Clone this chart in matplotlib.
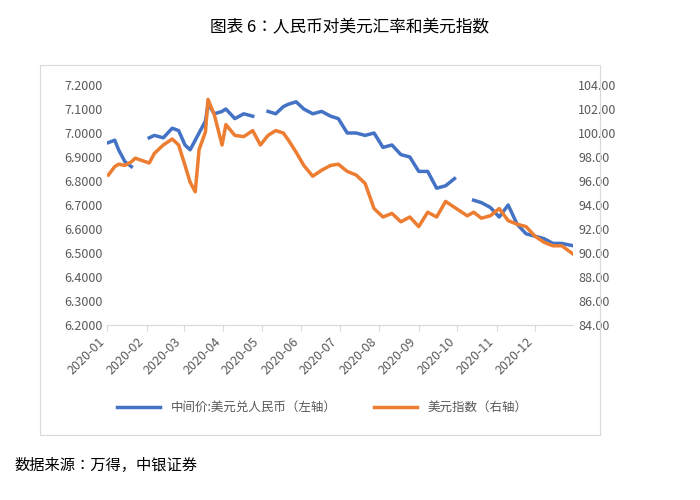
import matplotlib
matplotlib.use("Agg")
import matplotlib.pyplot as plt
import matplotlib.dates as mdates
import numpy as np
import pandas as pd

plt.rcParams['font.family'] = ['Noto Sans CJK JP', 'Noto Sans CJK SC', 'Noto Sans CJK TC', 'DejaVu Sans']

dates = ["2020-01-02","2020-01-07","2020-01-10","2020-01-15","2020-01-20","2020-01-23",
         "2020-02-03","2020-02-07","2020-02-14","2020-02-21","2020-02-26","2020-03-02","2020-03-06",
         "2020-03-10","2020-03-13","2020-03-18","2020-03-20","2020-03-25","2020-03-31","2020-04-03",
         "2020-04-10","2020-04-17","2020-04-24","2020-04-30","2020-05-06","2020-05-12","2020-05-18",
         "2020-05-22","2020-05-28","2020-06-03","2020-06-10","2020-06-17","2020-06-24","2020-06-30",
         "2020-07-07","2020-07-14","2020-07-21","2020-07-28","2020-08-04","2020-08-11","2020-08-18",
         "2020-08-25","2020-09-01","2020-09-08","2020-09-15","2020-09-22","2020-09-29","2020-10-09",
         "2020-10-14","2020-10-20","2020-10-27","2020-11-03","2020-11-10","2020-11-17","2020-11-24",
         "2020-12-01","2020-12-08","2020-12-15","2020-12-22","2020-12-31"]
cny = [6.96,6.97,6.93,6.88,6.86,np.nan,
       6.98,6.99,6.98,7.02,7.01,6.95,6.93,
       6.97,7.00,7.05,7.12,7.08,7.09,7.10,
       7.06,7.08,7.07,np.nan,7.09,7.08,7.11,
       7.12,7.13,7.10,7.08,7.09,7.07,7.06,
       7.00,7.00,6.99,7.00,6.94,6.95,6.91,
       6.90,6.84,6.84,6.77,6.78,6.81,np.nan,
       6.72,6.71,6.69,6.65,6.70,6.62,6.58,
       6.57,6.56,6.54,6.54,6.53]
dxy = [96.5,97.2,97.4,97.3,97.6,97.9,
       97.5,98.3,99.0,99.5,99.0,97.3,95.9,
       95.1,98.6,100.1,102.8,101.5,99.0,100.7,
       99.8,99.7,100.2,99.0,99.8,100.2,100.0,
       99.4,98.4,97.3,96.4,96.9,97.3,97.4,
       96.8,96.5,95.8,93.7,93.0,93.3,92.6,
       93.0,92.2,93.4,93.0,94.3,93.8,93.1,
       93.4,92.9,93.1,93.7,92.7,92.4,92.2,
       91.4,90.9,90.6,90.6,89.9]

d = pd.to_datetime(dates)

fig = plt.figure(figsize=(7, 5), dpi=100)
fig.patches.append(plt.Rectangle((0.057, 0.13), 0.80, 0.74, transform=fig.transFigure,
                                 fill=False, ec='#d9d9d9', lw=0.8))
ax = fig.add_axes([0.153, 0.35, 0.666, 0.48])
ax2 = ax.twinx()
l1, = ax.plot(d, cny, color='#4472c4', lw=2.5)
l2, = ax2.plot(d, dxy, color='#ed7d31', lw=2.5)
ax.set_ylim(6.2, 7.2)
ax.set_yticks(np.arange(6.2, 7.21, 0.1))
ax.yaxis.set_major_formatter(matplotlib.ticker.FormatStrFormatter('%.4f'))
ax2.set_ylim(84, 104)
ax2.set_yticks(np.arange(84, 104.1, 2))
ax2.yaxis.set_major_formatter(matplotlib.ticker.FormatStrFormatter('%.2f'))
ax.set_xlim(pd.Timestamp("2020-01-01"), pd.Timestamp("2020-12-31"))
ax.xaxis.set_major_locator(mdates.MonthLocator())
ax.xaxis.set_major_formatter(mdates.DateFormatter('%Y-%m'))
for lab in ax.get_xticklabels():
    lab.set_rotation(45); lab.set_ha('right')
for a in (ax, ax2):
    for s in a.spines.values():
        s.set_visible(False)
    a.tick_params(length=0, labelsize=9, colors='#595959')
ax.spines['bottom'].set_visible(True)
ax.spines['bottom'].set_color('#d9d9d9')
ax.tick_params(axis='x', length=4, color='#d9d9d9')
fig.text(0.5, 0.935, "图表 6：人民币对美元汇率和美元指数", ha='center', fontsize=12)
fig.legend([l1, l2], ["中间价:美元兑人民币（左轴）", "美元指数（右轴）"], loc='center',
           bbox_to_anchor=(0.46, 0.185), ncol=2, frameon=False, fontsize=9, labelcolor='#595959',
           handlelength=3.5, columnspacing=3)
fig.text(0.02, 0.06, "数据来源：万得，中银证券", fontsize=11)
fig.savefig("out.png", dpi=100)
